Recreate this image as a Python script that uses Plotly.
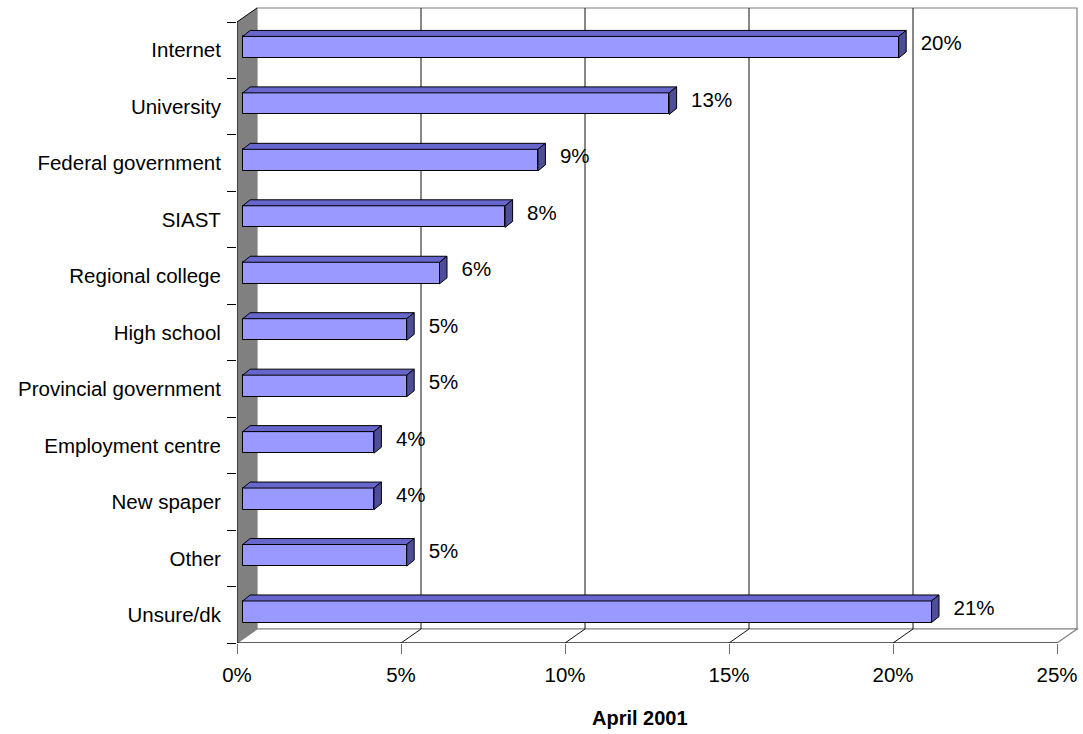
import plotly.graph_objects as go

# ---------------- data ----------------
categories = ["Internet", "University", "Federal government", "SIAST",
              "Regional college", "High school", "Provincial government",
              "Employment centre", "New spaper", "Other", "Unsure/dk"]
values = [20, 13, 9, 8, 6, 5, 5, 4, 4, 5, 21]
tick_values = [0, 5, 10, 15, 20, 25]
tick_labels = ["0%", "5%", "10%", "15%", "20%", "25%"]
x_title = "April 2001"

# ---------------- geometry / style ----------------
W, H = 1083, 734
L, R, T, B = 237, 1081, 4, 643          # plot area edges (px)
PX_X = 32.8                              # px per 1 %
n = len(categories)
FRONT_TOP = 22.0
PX_Y = (B - FRONT_TOP) / n               # px per category
x_max = (R - L) / PX_X
y_bot = n - 0.5
y_top = -0.5 - (FRONT_TOP - T) / PX_Y
x_end = tick_values[-1]

WDX, WDY = 20 / PX_X, 14 / PX_Y          # wall depth
BOX, BOY = 5.7 / PX_X, 3 / PX_Y          # bar plane offset
DX, DY = 7.5 / PX_X, 6 / PX_Y            # bar depth
BAR_W = 21.6 / PX_Y
LABEL_GAP = 22 / PX_X

FONT = "Liberation Sans, Arial, sans-serif"
FS = 20.5
BAR_FRONT = "#9999FF"
BAR_TOP = "#6666CC"
BAR_SIDE = "#4D4D99"
WALL = "#808080"
EDGE = "#808080"

fig = go.Figure()

fig.add_trace(go.Bar(
    x=values, y=list(range(n)), orientation="h", width=BAR_W,
    marker=dict(color=BAR_FRONT, line=dict(color="black", width=1)),
    xaxis="x2", yaxis="y2", hoverinfo="skip", showlegend=False))

fig.add_trace(go.Scatter(
    x=[v + LABEL_GAP for v in values],
    y=[i - DY / 3 for i in range(n)],
    mode="text", text=[f"{v}%" for v in values],
    textposition="middle right",
    textfont=dict(family=FONT, size=FS, color="black"),
    xaxis="x2", yaxis="y2", hoverinfo="skip", showlegend=False))

shapes = []


def path(pts):
    return "M " + " L ".join(f"{x},{y}" for x, y in pts) + " Z"


# back wall
shapes.append(dict(type="rect", xref="x", yref="y", layer="below",
                   x0=WDX, x1=x_end + WDX, y0=-0.5 - WDY, y1=y_bot - WDY,
                   fillcolor="white", line=dict(color=EDGE, width=1.2)))
# floor
shapes.append(dict(type="path", xref="x", yref="y", layer="below",
                   path=path([(0, y_bot), (WDX, y_bot - WDY),
                              (x_end + WDX, y_bot - WDY), (x_end, y_bot)]),
                   fillcolor="white", line=dict(color=EDGE, width=1.2)))
# left wall
shapes.append(dict(type="path", xref="x", yref="y", layer="below",
                   path=path([(0, -0.5), (WDX, -0.5 - WDY),
                              (WDX, y_bot - WDY), (0, y_bot)]),
                   fillcolor=WALL, line=dict(width=0)))
# gridlines
for t in tick_values[1:-1]:
    shapes.append(dict(type="line", xref="x", yref="y", layer="below",
                       x0=t + WDX, x1=t + WDX, y0=-0.5 - WDY, y1=y_bot - WDY,
                       line=dict(color="#111111", width=1)))
    shapes.append(dict(type="line", xref="x", yref="y", layer="below",
                       x0=t + WDX, x1=t, y0=y_bot - WDY, y1=y_bot,
                       line=dict(color="#111111", width=1)))
# front axis lines
shapes.append(dict(type="line", xref="x", yref="y", layer="below",
                   x0=0, x1=0, y0=-0.5, y1=y_bot,
                   line=dict(color="black", width=1)))
shapes.append(dict(type="line", xref="x", yref="y", layer="below",
                   x0=0, x1=WDX, y0=-0.5, y1=-0.5 - WDY,
                   line=dict(color="black", width=1)))
shapes.append(dict(type="line", xref="x", yref="y", layer="below",
                   x0=0, x1=x_end, y0=y_bot, y1=y_bot,
                   line=dict(color="black", width=1)))

# 3-D faces of the bars
for i, v in enumerate(values):
    top = i - BAR_W / 2
    bot = i + BAR_W / 2
    shapes.append(dict(type="path", xref="x2", yref="y2",
                       path=path([(0, top), (v, top), (v + DX, top - DY),
                                  (DX, top - DY)]),
                       fillcolor=BAR_TOP, line=dict(color="black", width=1)))
    shapes.append(dict(type="path", xref="x2", yref="y2",
                       path=path([(v, top), (v, bot), (v + DX, bot - DY),
                                  (v + DX, top - DY)]),
                       fillcolor=BAR_SIDE, line=dict(color="black", width=1)))

fig.update_layout(
    width=W, height=H,
    margin=dict(l=L, r=W - R, t=T, b=H - B, pad=0),
    paper_bgcolor="white", plot_bgcolor="white",
    font=dict(family=FONT, size=FS, color="black"),
    bargap=0, showlegend=False,
    shapes=shapes,
    xaxis=dict(range=[0, x_max], tickmode="array", tickvals=tick_values,
               ticktext=tick_labels, ticks="outside", ticklen=10,
               ticklabelstandoff=3,
               tickcolor="#707070", tickwidth=1, showgrid=False,
               zeroline=False, showline=False,
               tickfont=dict(family=FONT, size=FS, color="black")),
    yaxis=dict(range=[y_bot, y_top], tickmode="array",
               tickvals=list(range(n)), ticktext=categories,
               ticks="outside", ticklen=11, tickcolor="rgba(0,0,0,0)",
               minor=dict(tickmode="array",
                          tickvals=[i - 0.5 for i in range(n + 1)],
                          ticks="outside", ticklen=9, tickcolor="black",
                          tickwidth=1, showgrid=False),
               showgrid=False, zeroline=False, showline=False,
               tickfont=dict(family=FONT, size=FS, color="black")),
    xaxis2=dict(range=[-BOX, x_max - BOX], overlaying="x", visible=False),
    yaxis2=dict(range=[y_bot + BOY, y_top + BOY], overlaying="y",
                visible=False),
    annotations=[dict(text="<b>" + x_title + "</b>", xref="x", yref="paper",
                      x=x_end / 2 - 0.2, y=-(718 - B) / (B - T),
                      showarrow=False, xanchor="center", yanchor="middle",
                      font=dict(family=FONT, size=20, color="black"))],
)

fig.write_html("out.html",
               config={"displayModeBar": False},
               post_script="document.body.style.margin='0';"
                           "document.body.style.overflow='hidden';")
